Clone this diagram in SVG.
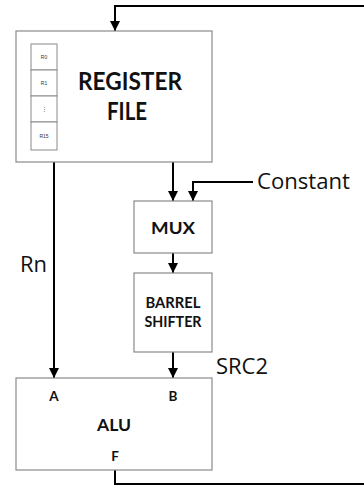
<svg xmlns="http://www.w3.org/2000/svg" width="364" height="485" viewBox="0 0 364 485">
<style>
.box{fill:#fff;stroke:#8a8a8a;stroke-width:1.2}
.reg{fill:#fff;stroke:#8a8a8a;stroke-width:1}
.wire{fill:none;stroke:#000;stroke-width:2}
.b{font-family:"Lato","Liberation Sans",sans-serif;font-weight:bold;fill:#111;text-anchor:middle}
.n{font-family:"Open Sans","Liberation Sans",sans-serif;fill:#111}
.s{font-family:"Liberation Sans",sans-serif;font-size:5px;fill:#333;text-anchor:middle}
</style>
<defs>
<marker id="ar" viewBox="0 0 10 10" refX="10" refY="5" markerWidth="10" markerHeight="10" markerUnits="userSpaceOnUse" orient="auto">
<path d="M0,0 L10,5 L0,10 z" fill="#000"/>
</marker>
</defs>
<rect width="364" height="485" fill="#fff"/>
<g id="connectors">
<path class="wire" d="M364,6 H115 V31" marker-end="url(#ar)"/>
<path class="wire" d="M54,162 V378" marker-end="url(#ar)"/>
<path class="wire" d="M173,162 V201" marker-end="url(#ar)"/>
<path class="wire" d="M253,182 H193 V201" marker-end="url(#ar)"/>
<path class="wire" d="M173,253 V273" marker-end="url(#ar)"/>
<path class="wire" d="M173,352 V378" marker-end="url(#ar)"/>
<path class="wire" d="M115,470 V484 H364"/>
</g>
<g id="register-file">
<rect class="box" x="16" y="31" width="196" height="131"/>
<rect class="reg" x="31" y="44" width="26" height="26"/>
<rect class="reg" x="31" y="70" width="26" height="26"/>
<rect class="reg" x="31" y="96" width="26" height="26"/>
<rect class="reg" x="31" y="122" width="26" height="28"/>
<text class="s" x="44" y="59">R0</text>
<text class="s" x="44" y="85">R1</text>
<text class="s" x="44" y="111">⋮</text>
<text class="s" x="44" y="138">R15</text>
<text class="b" x="130" y="90" font-size="24" textLength="104" lengthAdjust="spacingAndGlyphs">REGISTER</text>
<text class="b" x="127" y="120" font-size="24" textLength="40" lengthAdjust="spacingAndGlyphs">FILE</text>
</g>
<g id="mux">
<rect class="box" x="134" y="201" width="78" height="52"/>
<text class="b" x="173" y="234" font-size="17.5" textLength="44" lengthAdjust="spacingAndGlyphs">MUX</text>
</g>
<g id="barrel-shifter">
<rect class="box" x="134" y="273" width="78" height="79"/>
<text class="b" x="173" y="308" font-size="14.5" textLength="55" lengthAdjust="spacingAndGlyphs">BARREL</text>
<text class="b" x="173" y="327" font-size="14.5" textLength="57" lengthAdjust="spacingAndGlyphs">SHIFTER</text>
</g>
<g id="alu">
<rect class="box" x="16" y="378" width="196" height="92"/>
<text class="b" x="54" y="401" font-size="13.5">A</text>
<text class="b" x="173" y="401" font-size="13.5">B</text>
<text class="b" x="114" y="431" font-size="17.5" textLength="34" lengthAdjust="spacingAndGlyphs">ALU</text>
<text class="b" x="115" y="461" font-size="13.5">F</text>
</g>
<g id="labels">
<text class="n" x="257" y="189" font-size="21" textLength="93" lengthAdjust="spacingAndGlyphs">Constant</text>
<text class="n" x="20" y="272" font-size="21" textLength="27" lengthAdjust="spacingAndGlyphs">Rn</text>
<text class="n" x="216" y="374" font-size="21" textLength="52" lengthAdjust="spacingAndGlyphs">SRC2</text>
</g>
</svg>
